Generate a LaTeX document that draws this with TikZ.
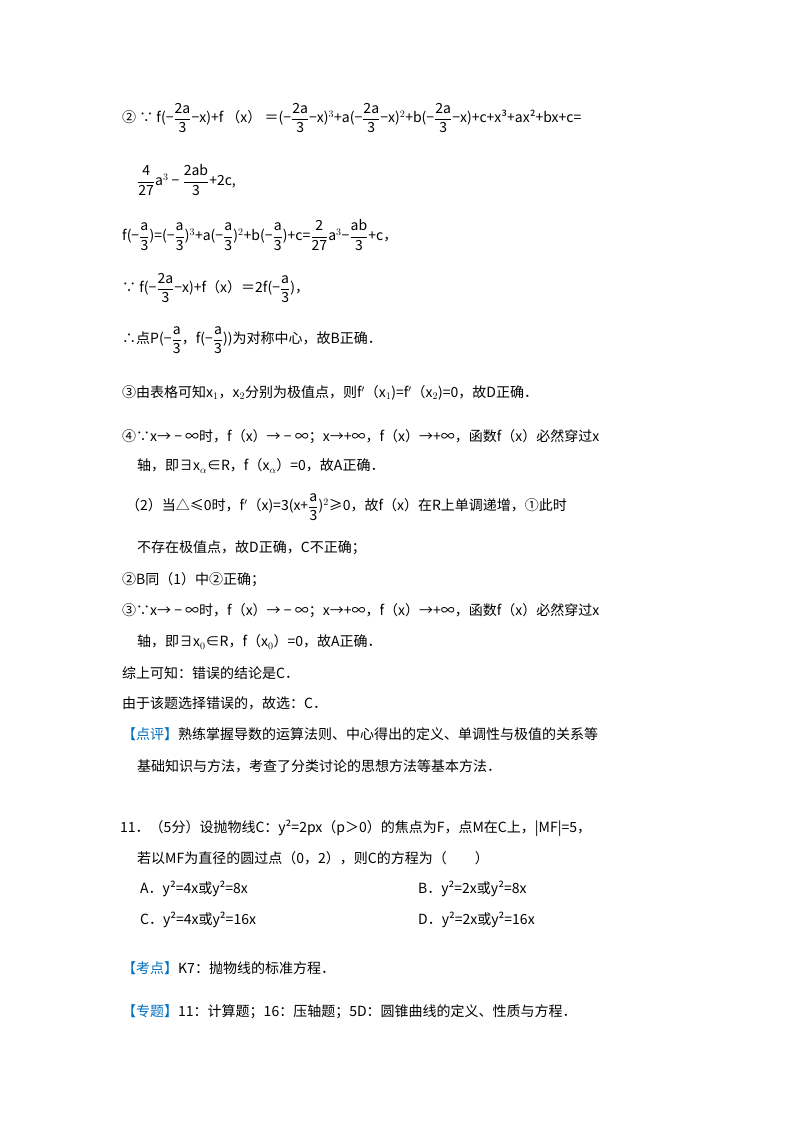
\documentclass[tikz,border=0pt]{standalone}
\usepackage{fontspec}
\setmainfont{Noto Sans CJK SC}
\definecolor{kb}{RGB}{0,112,192}
\newcommand\fr[2]{$\displaystyle\frac{\mathrm{#1}}{\mathrm{#2}}$}
\begin{document}
\begin{tikzpicture}[x=1pt,y=-1pt,
  ln/.style={anchor=west,inner sep=0pt,font=\fontsize{14}{17}\selectfont}]
\useasboundingbox[fill=white] (0,0) rectangle (800,1133);
\node[ln] (l1) at (122,118) {② ∵ f(−\fr{2a}{3}−x)+f （x） ＝(−\fr{2a}{3}−x)$^3$+a(−\fr{2a}{3}−x)$^2$+b(−\fr{2a}{3}−x)+c+x³+ax²+bx+c=};
\node[ln] (l2) at (137,180) {\fr{4}{27}a$^3$ − \fr{2ab}{3}+2c,};
\node[ln] (l3) at (122,235) {f(−\fr{a}{3})=(−\fr{a}{3})$^3$+a(−\fr{a}{3})$^2$+b(−\fr{a}{3})+c=\fr{2}{27}a$^3$−\fr{ab}{3}+c，};
\node[ln] (l4) at (122,288) {∵ f(−\fr{2a}{3}−x)+f（x）＝2f(−\fr{a}{3})，};
\node[ln] (l5) at (122,340) {∴点P(−\fr{a}{3}，f(−\fr{a}{3}))为对称中心，故B正确．};
\node[ln] (l6) at (122,393) {③由表格可知x$_1$，x$_2$分别为极值点，则f$'$（x$_1$)=f$'$（x$_2$)=0，故D正确．};
\node[ln] (l7) at (122,437) {④∵x→ − ∞时，f（x）→ − ∞；x→+∞，f（x）→+∞，函数f（x）必然穿过x};
\node[ln] (l8) at (137,466) {轴，即∃x$_\alpha$∈R，f（x$_\alpha$）=0，故A正确．};
\node[ln] (l9) at (126,507) {（2）当△≤0时，f$'$（x)=3(x+\fr{a}{3})$^2$≥0，故f（x）在R上单调递增，①此时};
\node[ln] (l10) at (137,548) {不存在极值点，故D正确，C不正确；};
\node[ln] (l11) at (122,580) {②B同（1）中②正确；};
\node[ln] (l12) at (122,611) {③∵x→ − ∞时，f（x）→ − ∞；x→+∞，f（x）→+∞，函数f（x）必然穿过x};
\node[ln] (l13) at (137,642) {轴，即∃x$_0$∈R，f（x$_0$）=0，故A正确．};
\node[ln] (l14) at (122,673) {综上可知：错误的结论是C．};
\node[ln] (l15) at (122,703) {由于该题选择错误的，故选：C．};
\node[ln] (l16) at (122,734) {{\color{kb}【点评】}熟练掌握导数的运算法则、中心得出的定义、单调性与极值的关系等};
\node[ln] (l17) at (137,766) {基础知识与方法，考查了分类讨论的思想方法等基本方法．};
\node[ln] (l18) at (120,828) {11．（5分）设抛物线C：y²=2px（p＞0）的焦点为F，点M在C上，|MF|=5，};
\node[ln] (l19) at (137,858) {若以MF为直径的圆过点（0，2），则C的方程为（\quad\quad）};
\node[ln] (a) at (140,889) {A．y²=4x或y²=8x};
\node[ln] (b) at (418,889) {B．y²=2x或y²=8x};
\node[ln] (c) at (140,920) {C．y²=4x或y²=16x};
\node[ln] (d) at (418,920) {D．y²=2x或y²=16x};
\node[ln] (l20) at (122,968) {{\color{kb}【考点】}K7：抛物线的标准方程．};
\node[ln] (l21) at (122,1012) {{\color{kb}【专题】}11：计算题；16：压轴题；5D：圆锥曲线的定义、性质与方程．};
\end{tikzpicture}
\end{document}
